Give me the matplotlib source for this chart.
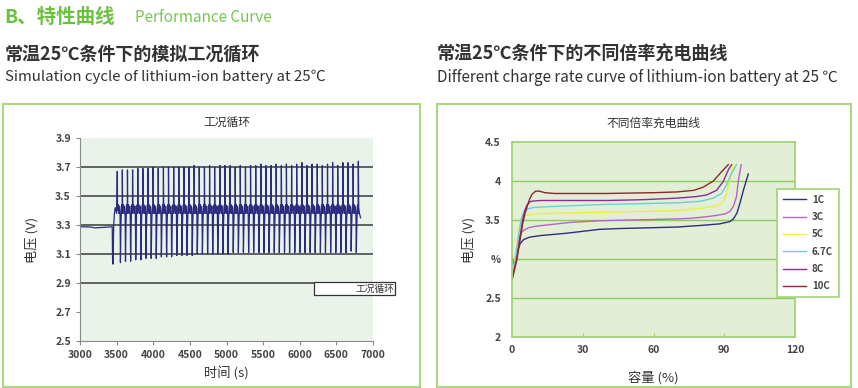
import matplotlib.pyplot as plt
import numpy as np
from matplotlib.patches import Rectangle

plt.rcParams['font.family'] = ['Noto Sans CJK SC', 'DejaVu Sans']

# ---- 左图: 工况循环 ----
pre_t = [3000, 3150, 3200, 3300, 3440, 3445, 3452, 3460, 3470, 3480, 3490, 3500]
pre_v = [3.288, 3.286, 3.280, 3.283, 3.288, 3.05, 3.03, 3.30, 3.38, 3.42, 3.40, 3.38]
spike_t = [3509, 3578, 3648, 3718, 3789, 3858, 3929, 3998, 4068, 4139, 4208, 4279,
           4349, 4418, 4489, 4558, 4628, 4699, 4769, 4838, 4909, 4978, 5049, 5119,
           5188, 5259, 5328, 5399, 5469, 5538, 5609, 5678, 5749, 5818, 5889, 5958,
           6029, 6099, 6168, 6239, 6308, 6379, 6449, 6518, 6589, 6659, 6729, 6800]
peaks = [3.67, 3.68, 3.68, 3.68, 3.69, 3.69, 3.69, 3.70, 3.69, 3.70, 3.70, 3.70,
         3.70, 3.70, 3.70, 3.71, 3.70, 3.70, 3.71, 3.70, 3.71, 3.71, 3.71, 3.70,
         3.71, 3.70, 3.71, 3.71, 3.72, 3.71, 3.71, 3.72, 3.71, 3.72, 3.71, 3.72,
         3.73, 3.71, 3.72, 3.72, 3.71, 3.72, 3.73, 3.71, 3.73, 3.73, 3.72, 3.74]
lows = [3.04, 3.05, 3.05, 3.06, 3.06, 3.07, 3.07, 3.07, 3.08, 3.08, 3.08, 3.09,
        3.09, 3.09, 3.09, 3.10, 3.10, 3.10, 3.10, 3.10, 3.10, 3.10, 3.11, 3.11,
        3.11, 3.11, 3.11, 3.11, 3.11, 3.11, 3.11, 3.11, 3.11, 3.11, 3.11, 3.11,
        3.11, 3.11, 3.11, 3.11, 3.11, 3.11, 3.11, 3.11, 3.11, 3.12, 3.11, 3.11]
# 每个循环内的平台段 (相对时间, 电压)
plateau_a = [(4, 3.40), (13, 3.44), (22, 3.38), (31, 3.43), (38, 3.37)]
plateau_b = [(50, 3.30), (56, 3.41), (63, 3.44), (68, 3.38)]
low_dt = 43
end_t = [6805, 6815, 6830]
end_v = [3.42, 3.38, 3.35]

# ---- 右图: 不同倍率充电曲线 ----
rates = ['1C', '3C', '5C', '6.7C', '8C', '10C']
colors = ['#2e2e7e', '#b864c4', '#eeee44', '#66d2d8', '#8e2c96', '#8a2a2a']
cap = {
    '1C':   [0, 0.7, 1.5, 2.5, 3.5, 5, 7.5, 12, 23, 37, 45, 58, 70, 80, 88, 92.4,
             93.8, 95.4, 96.6, 98.1, 100.2],
    '3C':   [0, 1, 2, 3, 4, 5, 7, 10, 16, 25, 37, 50, 65, 75, 82, 87, 90.5, 92.4,
             93.8, 95.2, 96, 97.2],
    '5C':   [0, 1.5, 2.5, 3.5, 4.5, 6, 10, 23, 40, 55, 70, 80, 86.7, 89.5, 91, 92.4, 93.8],
    '6.7C': [0, 1.5, 3, 4, 5, 6.5, 9, 15, 23, 40, 55, 70, 80, 85.3, 88.8, 91, 93.1, 95.2],
    '8C':   [0, 2, 3.5, 4.5, 5.5, 6.5, 8, 12, 23, 40, 55, 70, 78, 82.5, 86.7, 89.5,
             91.7, 93.1],
    '10C':  [0, 2, 3.4, 4.5, 5.5, 6.5, 7.5, 8.5, 10, 11.5, 14, 18, 40, 60, 70, 77,
             81, 85.4, 88.9, 91.7],
}
volt = {
    '1C':   [3.03, 2.92, 2.98, 3.12, 3.20, 3.25, 3.28, 3.30, 3.33, 3.38, 3.39, 3.40,
             3.41, 3.43, 3.45, 3.48, 3.51, 3.59, 3.71, 3.88, 4.09],
    '3C':   [2.73, 2.95, 3.15, 3.27, 3.34, 3.37, 3.40, 3.42, 3.44, 3.47, 3.49, 3.50,
             3.51, 3.52, 3.54, 3.56, 3.58, 3.61, 3.67, 3.80, 4.01, 4.21],
    '5C':   [2.75, 3.05, 3.30, 3.47, 3.53, 3.56, 3.58, 3.59, 3.60, 3.61, 3.62, 3.65,
             3.68, 3.73, 3.84, 4.01, 4.21],
    '6.7C': [2.75, 3.00, 3.35, 3.52, 3.60, 3.64, 3.66, 3.67, 3.68, 3.70, 3.71, 3.72,
             3.74, 3.78, 3.84, 3.95, 4.10, 4.21],
    '8C':   [2.75, 3.00, 3.30, 3.50, 3.63, 3.70, 3.74, 3.75, 3.75, 3.75, 3.76, 3.78,
             3.80, 3.82, 3.88, 3.99, 4.14, 4.21],
    '10C':  [2.73, 2.98, 3.24, 3.45, 3.58, 3.68, 3.77, 3.83, 3.87, 3.87, 3.85, 3.84,
             3.84, 3.85, 3.86, 3.88, 3.92, 4.00, 4.12, 4.21],
}
r_yticks = [2, 2.5, 3, 3.5, 4, 4.5]
r_yticklabels = ['2', '2.5', '%', '3.5', '4', '4.5']

W, H = 858, 388
fig = plt.figure(figsize=(W / 100, H / 100), dpi=100)


def fx(x):
    return x / W


def fy(y):
    return 1 - y / H


# 外框
for x0, x1 in [(3, 420), (437, 851)]:
    fig.patches.append(Rectangle((fx(x0), fy(387)), fx(x1 - x0), (387 - 104) / H,
                                 transform=fig.transFigure, fill=False,
                                 edgecolor='#a8d880', lw=1.5))

# 顶部文字
fig.text(fx(4), fy(17), 'B、特性曲线', color='#6cc040', fontsize=14, va='center', weight='bold')
fig.text(fx(135), fy(18), 'Performance Curve', color='#78c850', fontsize=11, va='center')
fig.text(fx(5), fy(54), '常温25℃条件下的模拟工况循环', color='#333333', fontsize=13,
         va='center', weight='bold')
fig.text(fx(5), fy(77), 'Simulation cycle of lithium-ion battery at 25℃', color='#333333',
         fontsize=10.8, va='center')
fig.text(fx(437), fy(54), '常温25℃条件下的不同倍率充电曲线', color='#333333', fontsize=13,
         va='center', weight='bold')
fig.text(fx(437), fy(77), 'Different charge rate curve of lithium-ion battery at 25 ℃',
         color='#333333', fontsize=11, va='center')

tick_font = dict(fontsize=7.5, color='#444444', weight='bold')

# 左图
t = list(pre_t)
v = list(pre_v)
for i, s in enumerate(spike_t):
    t.append(s)
    v.append(peaks[i])
    if i == len(spike_t) - 1:
        break
    for dt, vv in plateau_a:
        t.append(s + dt)
        v.append(vv)
    t.append(s + low_dt)
    v.append(lows[i])
    for dt, vv in plateau_b:
        t.append(s + dt)
        v.append(vv)
t += end_t
v += end_v

ax1 = fig.add_axes([fx(80), fy(341), fx(293), 203 / H])
ax1.set_facecolor('#e9f3ea')
ax1.plot(t, v, color='#2b2b80', lw=0.9)
ax1.set_xlim(3000, 7000)
ax1.set_ylim(2.5, 3.9)
xt = np.arange(3000, 7001, 500)
ax1.set_xticks(xt)
ax1.set_xticklabels([str(x) for x in xt], **tick_font)
yt = [2.5, 2.7, 2.9, 3.1, 3.3, 3.5, 3.7, 3.9]
ax1.set_yticks(yt)
ax1.set_yticklabels(['%.1f' % y for y in yt], **tick_font)
for gv in [2.9, 3.1, 3.3, 3.5, 3.7]:
    ax1.axhline(gv, color='#3a3a3a', lw=1.1, zorder=0.5)
for sp in ['top', 'right']:
    ax1.spines[sp].set_visible(False)
for sp in ['left', 'bottom']:
    ax1.spines[sp].set_color('#8a8a8a')
ax1.tick_params(length=3, width=0.8, color='#8a8a8a')
ax1.set_title('工况循环', fontsize=8.5, color='#333333', pad=9)
ax1.set_xlabel('时间 (s)', fontsize=9.5, color='#333333', labelpad=5)
ax1.set_ylabel('电压 (V)', fontsize=9.5, color='#333333', labelpad=12)
# 图例框
ax1.add_patch(Rectangle((0.799, 0.227), 0.276, 0.063, transform=ax1.transAxes,
                        facecolor='white', edgecolor='#333333', lw=0.9,
                        clip_on=False, zorder=5))
ax1.text(1.072, 0.2585, '工况循环', transform=ax1.transAxes, ha='right', va='center',
         fontsize=7, color='#333333', zorder=6, clip_on=False)

# 右图
ax2 = fig.add_axes([fx(512), fy(337), fx(283), 195 / H])
ax2.set_facecolor('#e2eed6')
for r, c in zip(rates, colors):
    ax2.plot(cap[r], volt[r], color=c, lw=1.0, label=r)
ax2.set_xlim(0, 120)
ax2.set_ylim(2, 4.5)
ax2.set_xticks([0, 30, 60, 90, 120])
ax2.set_xticklabels(['0', '30', '60', '90', '120'], **tick_font)
ax2.set_yticks(r_yticks)
ax2.set_yticklabels(r_yticklabels, **tick_font)
for gv in [2.5, 3, 3.5, 4]:
    ax2.axhline(gv, color='#8ccc60', lw=1.0, zorder=0.5)
for sp in ax2.spines.values():
    sp.set_color('#a0d478')
    sp.set_linewidth(1.3)
ax2.tick_params(axis='x', direction='in', length=3, width=0.8, color='#a0d478', pad=6)
ax2.tick_params(axis='y', length=0, pad=8)
ax2.set_title('不同倍率充电曲线', fontsize=8.5, color='#333333', pad=11)
ax2.set_xlabel('容量 (%)', fontsize=9.5, color='#333333', labelpad=11)
ax2.set_ylabel('电压 (V)', fontsize=9.5, color='#333333', labelpad=7)
leg2 = ax2.legend(loc='upper left', bbox_to_anchor=((777 - 512) / 283, 1 - (189 - 142) / 195),
                  prop=dict(size=7, weight='bold'), frameon=True, fancybox=False,
                  handlelength=2.4, handletextpad=0.6, labelspacing=0.75,
                  borderpad=0.6, borderaxespad=0)
for txt in leg2.get_texts():
    txt.set_color('#444444')
leg2.get_frame().set_edgecolor('#a0d478')
leg2.get_frame().set_linewidth(1.2)
leg2.get_frame().set_alpha(1)

fig.savefig('out.png', dpi=100)
